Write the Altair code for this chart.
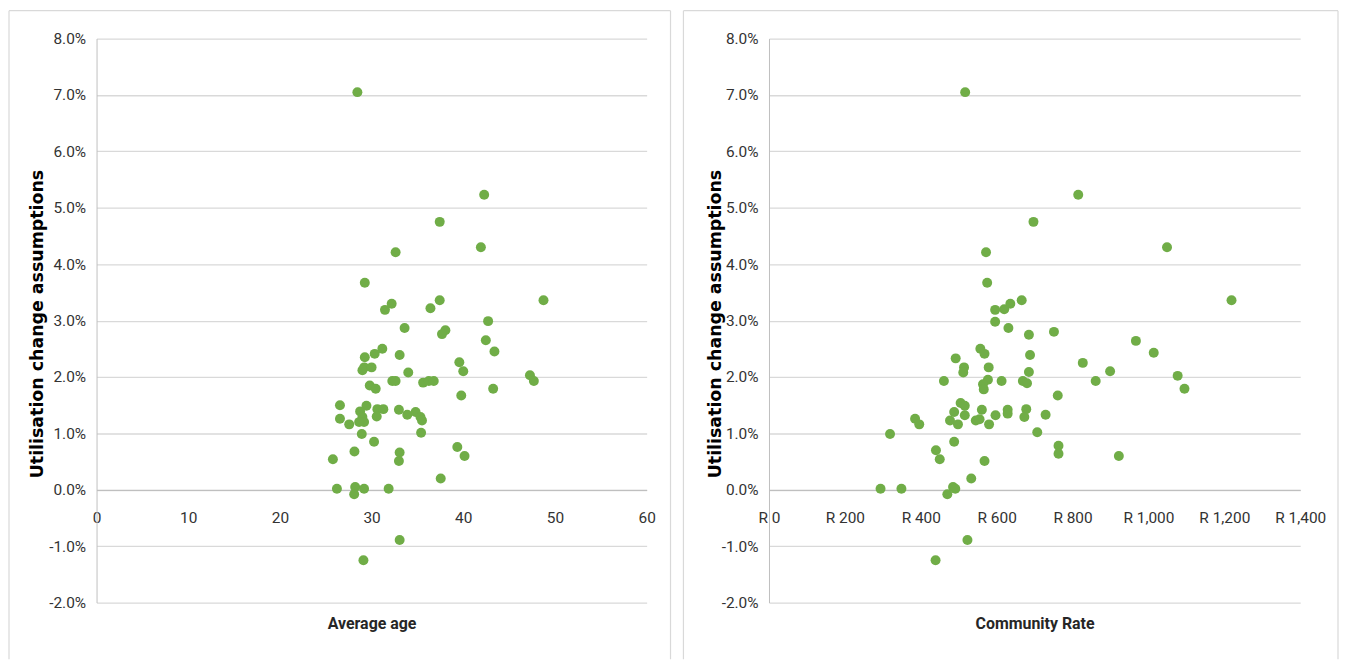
import altair as alt
import pandas as pd

# ---- data ----
age = [28.45, 42.28, 37.43, 32.62, 41.92, 29.26, 32.19, 31.46, 36.42, 37.43,
       48.75, 42.71, 33.6, 38.05, 37.68, 42.46, 43.40, 31.17, 30.34, 33.06,
       29.26, 39.57, 29.2, 29.0, 30.0, 40.0, 34.0, 47.27, 47.70, 32.26,
       32.62, 35.62, 36.24, 36.78, 29.8, 30.45, 43.26, 39.78, 26.55, 29.44,
       30.63, 31.28, 32.98, 28.75, 34.8, 33.89, 30.56, 35.33, 26.55, 29.0,
       29.18, 27.56, 35.5, 28.64, 28.93, 35.4, 30.27, 39.35, 28.13, 33.06,
       40.14, 25.78, 32.98, 37.54, 26.22, 28.21, 28.1, 29.18, 31.86, 33.06, 29.11]
age_util = [7.05, 5.23, 4.75, 4.21, 4.30, 3.67, 3.30, 3.19, 3.22, 3.36,
            3.36, 2.99, 2.87, 2.83, 2.76, 2.65, 2.45, 2.50, 2.41, 2.39,
            2.35, 2.26, 2.17, 2.12, 2.17, 2.10, 2.08, 2.03, 1.93, 1.93,
            1.93, 1.90, 1.93, 1.93, 1.85, 1.79, 1.79, 1.67, 1.50, 1.49,
            1.43, 1.43, 1.42, 1.39, 1.38, 1.33, 1.30, 1.29, 1.26, 1.29,
            1.20, 1.16, 1.23, 1.20, 0.99, 1.01, 0.85, 0.76, 0.68, 0.66,
            0.60, 0.54, 0.51, 0.20, 0.02, 0.05, -0.08, 0.02, 0.02, -0.89, -1.25]

rate = [517, 815, 697, 572, 1049, 575, 636, 620, 596, 666,
        1219, 596, 631, 751, 685, 967, 1014, 557, 568, 688,
        492, 827, 579, 514, 512, 685, 899, 1077, 1095, 461,
        613, 577, 564, 566, 669, 680, 861, 761, 505, 516,
        488, 561, 629, 629, 678, 673, 729, 597, 516, 385,
        396, 477, 498, 545, 555, 580, 319, 707, 488, 763,
        763, 440, 450, 922, 568, 533, 294, 349, 485, 491, 470, 523, 439]
rate_util = [7.05, 5.23, 4.75, 4.21, 4.30, 3.67, 3.30, 3.20, 3.19, 3.36,
             3.36, 2.98, 2.87, 2.80, 2.75, 2.64, 2.43, 2.50, 2.41, 2.39,
             2.33, 2.25, 2.17, 2.17, 2.08, 2.09, 2.10, 2.02, 1.79, 1.93,
             1.93, 1.95, 1.87, 1.78, 1.93, 1.89, 1.93, 1.67, 1.54, 1.49,
             1.38, 1.42, 1.42, 1.35, 1.43, 1.29, 1.33, 1.32, 1.32, 1.26,
             1.16, 1.23, 1.16, 1.23, 1.25, 1.16, 0.99, 1.02, 0.85, 0.78,
             0.64, 0.70, 0.54, 0.60, 0.51, 0.20, 0.02, 0.02, 0.05, 0.02, -0.08, -0.89, -1.25]

y_title = "Utilisation change assumptions"
y_ticks = [-2, -1, 0, 1, 2, 3, 4, 5, 6, 7, 8]
age_ticks = [0, 10, 20, 30, 40, 50, 60]
rate_ticks = [0, 200, 400, 600, 800, 1000, 1200, 1400]

GREEN = "#70AD47"
GRID = "#d9d9d9"
FRAME = "#d9d9d9"
H = 567
Y_DOM = [-2, 8]
# x axis crosses at y = 0 like the Excel original
x_axis_offset = -H * (0 - Y_DOM[0]) / (Y_DOM[1] - Y_DOM[0])

LABEL_FONT = "Roboto"


def panel(df, xfield, xtitle, xdomain, xticks, xlabels, width,
          frame_left, frame_right, ytitle_x):
    pts = alt.Chart(df).mark_circle(size=100, color=GREEN, opacity=1).encode(
        x=alt.X(f"{xfield}:Q",
                scale=alt.Scale(domain=xdomain, nice=False, zero=False),
                axis=alt.Axis(values=xticks, labelExpr=xlabels, title=xtitle,
                              offset=x_axis_offset, grid=False, ticks=False,
                              domainColor="#bfbfbf", domainWidth=1.3,
                              labelPadding=21, labelFlush=False, labelOverlap=False,
                              titleY=-x_axis_offset + 21, titleBaseline="middle")),
        y=alt.Y("util:Q",
                scale=alt.Scale(domain=Y_DOM, nice=False, zero=False),
                axis=alt.Axis(values=y_ticks,
                              labelExpr="replace(format(datum.value, '.1f'), '\u2212', '-') + '%'",
                              title=y_title, grid=True, gridColor=GRID, gridWidth=1.3,
                              ticks=False, domainColor="#bfbfbf", domainWidth=1,
                              labelPadding=11, titleX=ytitle_x, titleY=H / 2 + 3,
                              titleAngle=270, titleAlign="center",
                              titleBaseline="middle")),
    )
    one = pd.DataFrame({"k": [0]})
    top = alt.Chart(one).mark_rule(color=FRAME, strokeWidth=1.2).encode(
        x=alt.value(frame_left), x2=alt.value(width + frame_right), y=alt.value(-28))
    lft = alt.Chart(one).mark_rule(color=FRAME, strokeWidth=1.2).encode(
        x=alt.value(frame_left), y=alt.value(-28), y2=alt.value(H + 57))
    rgt = alt.Chart(one).mark_rule(color=FRAME, strokeWidth=1.2).encode(
        x=alt.value(width + frame_right), y=alt.value(-28), y2=alt.value(H + 57))
    return alt.layer(top, lft, rgt, pts).properties(width=width, height=H)


left = panel(pd.DataFrame({"age": age, "util": age_util}), "age", "Average age",
             [0, 60], age_ticks, "format(datum.value, 'd')", 553, -88, 24, -59)
right = panel(pd.DataFrame({"rate": rate, "util": rate_util}), "rate", "Community Rate",
              [0, 1400], rate_ticks, "'R ' + format(datum.value, ',')", 534, -86, 38, -54)

chart = alt.hconcat(left, right, spacing=11).properties(
    padding={"left": 0, "top": 0, "right": 0, "bottom": 0}
).configure_view(strokeWidth=0).configure_axis(
    labelFont=LABEL_FONT, labelFontSize=15.5, labelColor="#333333",
).configure_axisX(
    titleFont=LABEL_FONT, titleFontSize=16, titleFontWeight="bold", titleColor="#262626",
).configure_axisY(
    titleFont="DejaVu Sans", titleFontSize=17.5, titleFontWeight="bold", titleColor="#000000",
)

chart.save("out.html", embed_options={"renderer": "svg", "actions": False})
